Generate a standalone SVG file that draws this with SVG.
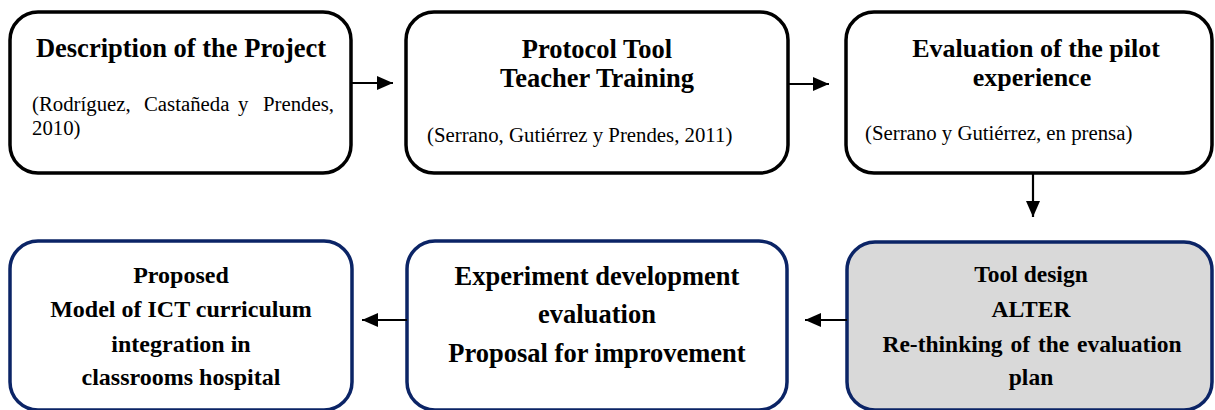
<svg xmlns="http://www.w3.org/2000/svg" width="1215" height="410" viewBox="0 0 1215 410">
<defs>
<style>
.top{fill:#ffffff;stroke:#000000;stroke-width:3.5}
.bot{fill:#ffffff;stroke:#0b2466;stroke-width:3.5}
.gray{fill:#d9d9d9}
.b{font-family:"Liberation Serif","Times New Roman",serif;font-weight:bold;fill:#000}
.r{font-family:"Liberation Serif","Times New Roman",serif;font-size:20.8px;fill:#000}
.c{text-anchor:middle}
.conn{stroke:#000;stroke-width:2.2;fill:none}
</style>
<marker id="ah" viewBox="0 0 16 14" refX="16" refY="7" markerWidth="16" markerHeight="14" markerUnits="userSpaceOnUse" orient="auto">
<path d="M0,0 L16,7 L0,14 Z" fill="#000"/>
</marker>
</defs>
<g id="n1">
<rect class="top" x="10" y="12" width="341" height="161" rx="28" ry="28"/>
<text class="b c" x="181" y="57" font-size="26.5">Description of the Project</text>
<text class="r" x="32" y="111">(Rodríguez,</text>
<text class="r" x="144" y="111">Castañeda</text>
<text class="r" x="238" y="111">y</text>
<text class="r" x="334" y="111" text-anchor="end">Prendes,</text>
<text class="r" x="32" y="135">2010)</text>
</g>
<g id="n2">
<rect class="top" x="406" y="12" width="382" height="161" rx="28" ry="28"/>
<text class="b c" x="597" y="58" font-size="26.5">Protocol Tool</text>
<text class="b c" x="597" y="87" font-size="26.5">Teacher Training</text>
<text class="r" x="427" y="142">(Serrano, Gutiérrez y Prendes, 2011)</text>
</g>
<g id="n3">
<rect class="top" x="846" y="12" width="366" height="161" rx="28" ry="28"/>
<text class="b c" x="1036" y="57" font-size="26">Evaluation of the pilot</text>
<text class="b c" x="1032" y="86" font-size="26">experience</text>
<text class="r" x="865" y="140">(Serrano y Gutiérrez, en prensa)</text>
</g>
<g id="n4">
<rect class="bot" x="10" y="241" width="342" height="169" rx="28" ry="28"/>
<text class="b c" x="181" y="283" font-size="24">Proposed</text>
<text class="b c" x="181" y="317" font-size="24">Model of ICT curriculum</text>
<text class="b c" x="181" y="352" font-size="24">integration in</text>
<text class="b c" x="181" y="385" font-size="24">classrooms hospital</text>
</g>
<g id="n5">
<rect class="bot" x="407" y="241" width="380" height="169" rx="28" ry="28"/>
<text class="b c" x="597" y="285" font-size="26.5">Experiment development</text>
<text class="b c" x="597" y="323" font-size="26.5">evaluation</text>
<text class="b c" x="597" y="362" font-size="26.5">Proposal for improvement</text>
</g>
<g id="n6">
<rect class="bot gray" x="847" y="242" width="365" height="168" rx="28" ry="28"/>
<text class="b c" x="1031" y="282" font-size="23.5">Tool design</text>
<text class="b c" x="1031" y="317" font-size="23.5">ALTER</text>
<text class="b c" x="1032" y="352" font-size="23.5" word-spacing="2">Re-thinking of the evaluation</text>
<text class="b c" x="1031" y="385" font-size="23.5">plan</text>
</g>
<g id="connectors">
<line class="conn" x1="352" y1="83" x2="393" y2="83" marker-end="url(#ah)"/>
<line class="conn" x1="789" y1="84" x2="829" y2="84" marker-end="url(#ah)"/>
<line class="conn" x1="1033" y1="174" x2="1033" y2="217" marker-end="url(#ah)"/>
<line class="conn" x1="847" y1="320" x2="805" y2="320" marker-end="url(#ah)"/>
<line class="conn" x1="407" y1="320" x2="362" y2="320" marker-end="url(#ah)"/>
</g>
</svg>
